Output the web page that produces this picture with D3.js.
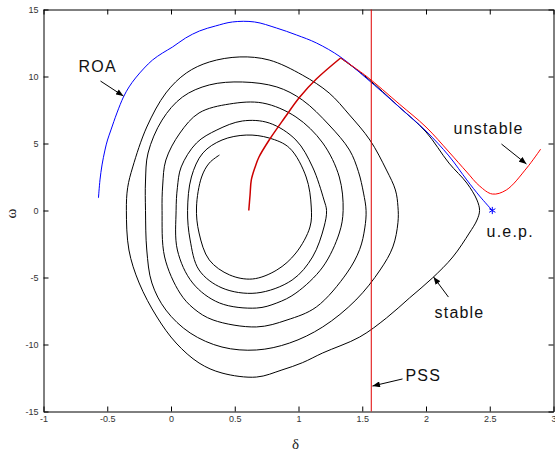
<!DOCTYPE html>
<html>
<head>
<meta charset="utf-8">
<script src="https://cdnjs.cloudflare.com/ajax/libs/d3/7.8.5/d3.min.js"></script>
<style>
  html, body { margin: 0; padding: 0; background: #fff; }
  svg { display: block; }
  .tick text { font-family: Arial, "Liberation Sans", sans-serif; font-size: 9px; fill: #333; }
  .note { font-family: Arial, "Liberation Sans", sans-serif; font-size: 16px; letter-spacing: 1.2px; fill: #111; }
  .axis-title { font-family: "Liberation Serif", "DejaVu Serif", serif; font-size: 15px; fill: #222; }
</style>
</head>
<body>
<svg id="chart" width="555" height="452"></svg>
<script>
// Phase portrait (delta, omega).

var xTicks = [-1, -0.5, 0, 0.5, 1, 1.5, 2, 2.5, 3];
var yTicks = [-15, -10, -5, 0, 5, 10, 15];

// fault-on trajectory (red), from the s.e.p. up to the clearing point
var faultOn = [
  [0.61, 0.00], [0.62, 1.16], [0.63, 2.28], [0.66, 3.25], [0.69, 3.99],
  [0.77, 5.26], [0.89, 6.90], [1.01, 8.47], [1.14, 9.81], [1.33, 11.38]
];

// post-fault trajectory for the stable case (black spiral)
var stablePost = [
  // swing out to the u.e.p. and first loop
  [1.33, 11.38], [1.53, 9.96], [1.79, 7.72], [2.00, 5.86], [2.18, 3.54], [2.32, 2.05],
  [2.40, 0.78], [2.42, 0.00], [2.40, -0.71], [2.34, -1.68], [2.21, -3.47], [2.05, -5.04],
  [1.87, -6.53], [1.69, -8.02], [1.48, -9.44], [1.19, -10.63], [1.03, -11.36], [0.87, -11.90],
  [0.67, -12.43], [0.40, -12.13], [0.22, -11.38], [0.04, -9.89], [-0.11, -7.95], [-0.25, -5.41],
  [-0.33, -2.95], [-0.35, 0.00], [-0.34, 1.70], [-0.30, 3.25], [-0.19, 6.23], [-0.04, 8.77],
  [0.12, 10.26], [0.30, 11.08], [0.54, 11.46], [0.77, 11.23], [1.03, 10.11], [1.24, 8.77],
  [1.40, 7.13], [1.56, 5.26], [1.69, 3.02], [1.76, 1.53], [1.78, 0.30],
  // loop 2
  [1.78, -0.90], [1.74, -2.72], [1.64, -4.44], [1.45, -6.68], [1.19, -8.69], [0.93, -9.89],
  [0.67, -10.41], [0.40, -10.19], [0.15, -9.14], [-0.04, -7.43], [-0.15, -5.41], [-0.19, -2.95],
  [-0.20, 0.00], [-0.20, 2.20], [-0.18, 4.29], [-0.07, 6.75], [0.09, 8.47], [0.30, 9.37],
  [0.56, 9.59], [0.83, 9.22], [1.03, 8.25], [1.24, 6.38], [1.40, 4.51], [1.47, 2.90],
  [1.51, 1.30], [1.53, 0.00],
  // loop 3
  [1.52, -1.30], [1.48, -2.90], [1.38, -4.66], [1.14, -7.20], [0.91, -8.17], [0.67, -8.69],
  [0.33, -8.17], [0.18, -7.33], [0.07, -6.16], [-0.05, -3.47], [-0.07, 0.00], [-0.065, 1.90],
  [-0.04, 3.77], [0.07, 5.78], [0.22, 7.28], [0.46, 7.95], [0.72, 8.02], [0.98, 6.98],
  [1.19, 5.04], [1.32, 2.50], [1.35, 0.00],
  // loop 4
  [1.32, -1.68], [1.19, -4.22], [0.98, -6.16], [0.83, -6.90], [0.67, -7.28], [0.38, -6.90],
  [0.17, -5.41], [0.05, -2.95], [0.04, 0.00], [0.05, 1.70], [0.08, 3.25], [0.20, 5.04],
  [0.36, 6.01], [0.56, 6.68], [0.77, 6.53], [0.98, 5.26], [1.11, 3.25], [1.20, 0.78], [1.22, 0.00],
  // loop 5
  [1.20, -1.23], [1.11, -3.47], [0.95, -5.19], [0.67, -6.16], [0.40, -5.78], [0.22, -4.44],
  [0.15, -2.20], [0.13, 0.00], [0.16, 2.50], [0.25, 4.29], [0.40, 5.26], [0.59, 5.63],
  [0.77, 5.41], [0.93, 4.66], [1.06, 2.50], [1.10, 0.26],
  // last turn
  [1.09, -1.23], [0.98, -3.17], [0.83, -4.44], [0.64, -5.11], [0.46, -4.81], [0.30, -3.69],
  [0.22, -1.68], [0.20, 0.26], [0.24, 2.50], [0.30, 3.54], [0.38, 4.14]
];

// post-fault trajectory for the unstable case (red)
var unstablePost = [
  [1.33, 11.38], [1.53, 10.04], [1.79, 7.95], [2.00, 6.23], [2.18, 4.37], [2.32, 2.87],
  [2.42, 1.83], [2.52, 1.23], [2.63, 1.53], [2.79, 3.17], [2.90, 4.59]
];

// region of attraction boundary (blue)
var roaBoundary = [
  [-0.569, 0.93], [-0.557, 2.28], [-0.541, 3.40], [-0.518, 4.51], [-0.498, 5.26], [-0.471, 6.01],
  [-0.424, 7.28], [-0.373, 8.47], [-0.329, 9.22], [-0.278, 9.89], [-0.210, 10.63], [-0.145, 11.23],
  [-0.067, 11.75], [0.012, 12.20], [0.114, 12.87], [0.224, 13.40], [0.349, 13.77], [0.482, 14.07],
  [0.655, 14.07], [0.827, 13.62], [0.984, 13.10], [1.141, 12.50], [1.329, 11.46],
  [1.53, 9.89], [1.79, 7.72], [2.00, 5.93], [2.18, 4.07], [2.32, 2.28], [2.42, 1.08], [2.52, 0.00]
];

var uep = [2.52, 0.00];
var pssDelta = 1.5708;

// annotation text: [delta, omega, label]
var noteText = [
  [-0.725, 10.34, 'ROA'],
  [2.216, 5.70, 'unstable'],
  [2.475, -1.95, 'u.e.p.'],
  [2.067, -8.02, 'stable'],
  [1.839, -12.72, 'PSS']
];
// annotation arrows: [fromDelta, fromOmega, toDelta, toOmega]
var noteArrows = [
  [-0.553, 9.66, -0.373, 8.54],
  [2.592, 4.96, 2.788, 3.47],
  [2.176, -6.46, 2.059, -4.96],
  [1.816, -12.57, 1.580, -13.10]
];

(function() {
  var svg = d3.select('#chart');
  var plotLeft = 43.5, plotRight = 553.5, plotTop = 9.5, plotBottom = 411.5;

  var x = d3.scaleLinear().domain([-1, 3]).range([plotLeft, plotRight]);
  var y = d3.scaleLinear().domain([-15, 15]).range([plotBottom, plotTop]);

  var fmt = function(d) { return String(d); };

  svg.append('g').attr('transform', 'translate(0,' + plotBottom + ')')
    .call(d3.axisBottom(x).tickValues(xTicks).tickFormat(fmt).tickSizeInner(-5).tickSizeOuter(0).tickPadding(4));
  svg.append('g').attr('transform', 'translate(' + plotLeft + ',0)')
    .call(d3.axisLeft(y).tickValues(yTicks).tickFormat(fmt).tickSizeInner(-5).tickSizeOuter(0).tickPadding(5));
  svg.append('g').attr('transform', 'translate(0,' + plotTop + ')')
    .call(d3.axisTop(x).tickValues(xTicks).tickFormat('').tickSizeInner(-5).tickSizeOuter(0));
  svg.append('g').attr('transform', 'translate(' + plotRight + ',0)')
    .call(d3.axisRight(y).tickValues(yTicks).tickFormat('').tickSizeInner(-5).tickSizeOuter(0));
  svg.selectAll('.domain, .tick line').attr('stroke', '#000').attr('stroke-width', 1);

  var line = d3.line()
    .x(function(d) { return x(d[0]); })
    .y(function(d) { return y(d[1]); })
    .curve(d3.curveCatmullRom.alpha(0.5));

  svg.append('path').datum(stablePost).attr('d', line)
    .attr('fill', 'none').attr('stroke', '#000').attr('stroke-width', 1);
  svg.append('path').datum(roaBoundary).attr('d', line)
    .attr('fill', 'none').attr('stroke', '#0000ff').attr('stroke-width', 1);
  svg.append('path').datum(unstablePost).attr('d', line)
    .attr('fill', 'none').attr('stroke', '#ff0000').attr('stroke-width', 1);
  svg.append('path').datum(faultOn).attr('d', line)
    .attr('fill', 'none').attr('stroke', '#cc0000').attr('stroke-width', 1.5);

  // PSS boundary at delta = pi/2
  svg.append('line')
    .attr('x1', x(pssDelta)).attr('x2', x(pssDelta))
    .attr('y1', y(15)).attr('y2', y(-15))
    .attr('stroke', '#e00000').attr('stroke-width', 1);

  // u.e.p. marker
  svg.append('path')
    .attr('d', d3.symbol().type(d3.symbolAsterisk).size(36)())
    .attr('transform', 'translate(' + x(uep[0]) + ',' + y(uep[1]) + ')')
    .attr('fill', 'none').attr('stroke', '#0000ff').attr('stroke-width', 1);

  // arrows + labels
  svg.append('defs').append('marker')
    .attr('id', 'head').attr('viewBox', '0 0 10 8')
    .attr('refX', 10).attr('refY', 4)
    .attr('markerWidth', 8).attr('markerHeight', 6)
    .attr('markerUnits', 'userSpaceOnUse')
    .attr('orient', 'auto')
    .append('path').attr('d', 'M0,0L10,4L0,8z').attr('fill', '#000');

  svg.selectAll('line.arrow').data(noteArrows).enter().append('line')
    .attr('class', 'arrow')
    .attr('x1', function(d) { return x(d[0]); }).attr('y1', function(d) { return y(d[1]); })
    .attr('x2', function(d) { return x(d[2]); }).attr('y2', function(d) { return y(d[3]); })
    .attr('stroke', '#000').attr('stroke-width', 1)
    .attr('marker-end', 'url(#head)');

  svg.selectAll('text.note').data(noteText).enter().append('text')
    .attr('class', 'note')
    .attr('x', function(d) { return x(d[0]); })
    .attr('y', function(d) { return y(d[1]); })
    .text(function(d) { return d[2]; });

  svg.append('text').attr('class', 'axis-title')
    .attr('x', (plotLeft + plotRight) / 2 - 3).attr('y', 449)
    .attr('text-anchor', 'middle').text('δ');
  svg.append('text').attr('class', 'axis-title')
    .attr('transform', 'translate(16,' + ((plotTop + plotBottom) / 2 + 3) + ') rotate(-90)')
    .attr('text-anchor', 'middle').text('ω');
})();
</script>
</body>
</html>
